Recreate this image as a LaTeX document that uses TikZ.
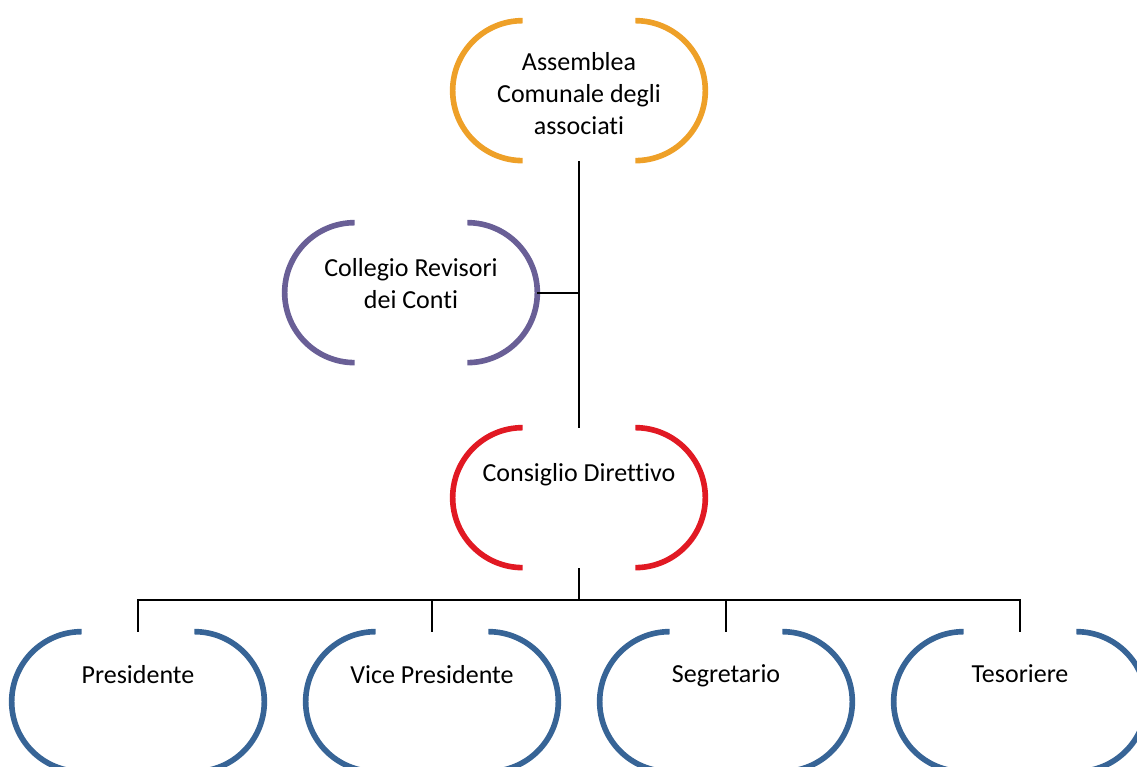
\documentclass[tikz,border=0pt]{standalone}
\usepackage{fontspec}
\setmainfont{Carlito}[Ligatures=NoCommon]
\usetikzlibrary{positioning}

\definecolor{orangeb}{RGB}{238,160,40}
\definecolor{purpleb}{RGB}{105,95,150}
\definecolor{redb}{RGB}{225,25,35}
\definecolor{blueb}{RGB}{55,100,150}

\tikzset{
  box/.style={minimum width=5.04cm, minimum height=2.8cm, inner sep=0pt},
  lbl/.style={align=center, inner sep=0pt, font=\fontsize{14.8}{18.2}\selectfont},
  bracketline/.style={line width=3.2pt},
  link/.style={line width=1.1pt}
}

\begin{document}
\begin{tikzpicture}[x=0.02cm, y=-0.02cm]
  \path[use as bounding box, clip] (0,0) rectangle (1137,767);
  % Boxes
  \node[box] (assemblea) at (579,91) {};
  \node[box] (collegio) at (411,293) {};
  \node[box] (consiglio) at (579,498) {};
  \node[box] (presidente) at (138,702) {};
  \node[box] (vice) at (432,702) {};
  \node[box] (segretario) at (726,702) {};
  \node[box] (tesoriere) at (1020,702) {};
  % Texts
  \node[lbl, below=0.62cm of assemblea.north] (assemblea-t) {Assemblea\\Comunale degli\\associati};
  \node[lbl, below=0.7cm of collegio.north] (collegio-t) {Collegio Revisori\\dei Conti};
  \node[lbl, below=0.7cm of consiglio.north] (consiglio-t) {Consiglio Direttivo};
  \node[lbl, below=0.66cm of presidente.north] (presidente-t) {Presidente};
  \node[lbl, below=0.66cm of vice.north] (vice-t) {Vice Presidente};
  \node[lbl, below=0.66cm of segretario.north] (segretario-t) {Segretario};
  \node[lbl, below=0.66cm of tesoriere.north] (tesoriere-t) {Tesoriere};
  % Brackets
  \foreach \n/\c in {assemblea/orangeb, collegio/purpleb, consiglio/redb,
      presidente/blueb, vice/blueb, segretario/blueb, tesoriere/blueb} {
    \draw[bracketline, \c] ([xshift=1.4cm]\n.north west)
      arc[start angle=90, end angle=270, radius=1.4cm];
    \draw[bracketline, \c] ([xshift=-1.4cm]\n.north east)
      arc[start angle=90, end angle=-90, radius=1.4cm];
  }
  % Connectors
  \draw[link] (assemblea.south) -- (consiglio.north);
  \draw[link] (collegio.east) -- (collegio.east -| assemblea.south);
  \coordinate (bus) at (579,600);
  \draw[link] (consiglio.south) -- (bus);
  \foreach \n in {presidente, vice, segretario, tesoriere} {
    \draw[link] (bus) -| (\n.north);
  }
\end{tikzpicture}
\end{document}
